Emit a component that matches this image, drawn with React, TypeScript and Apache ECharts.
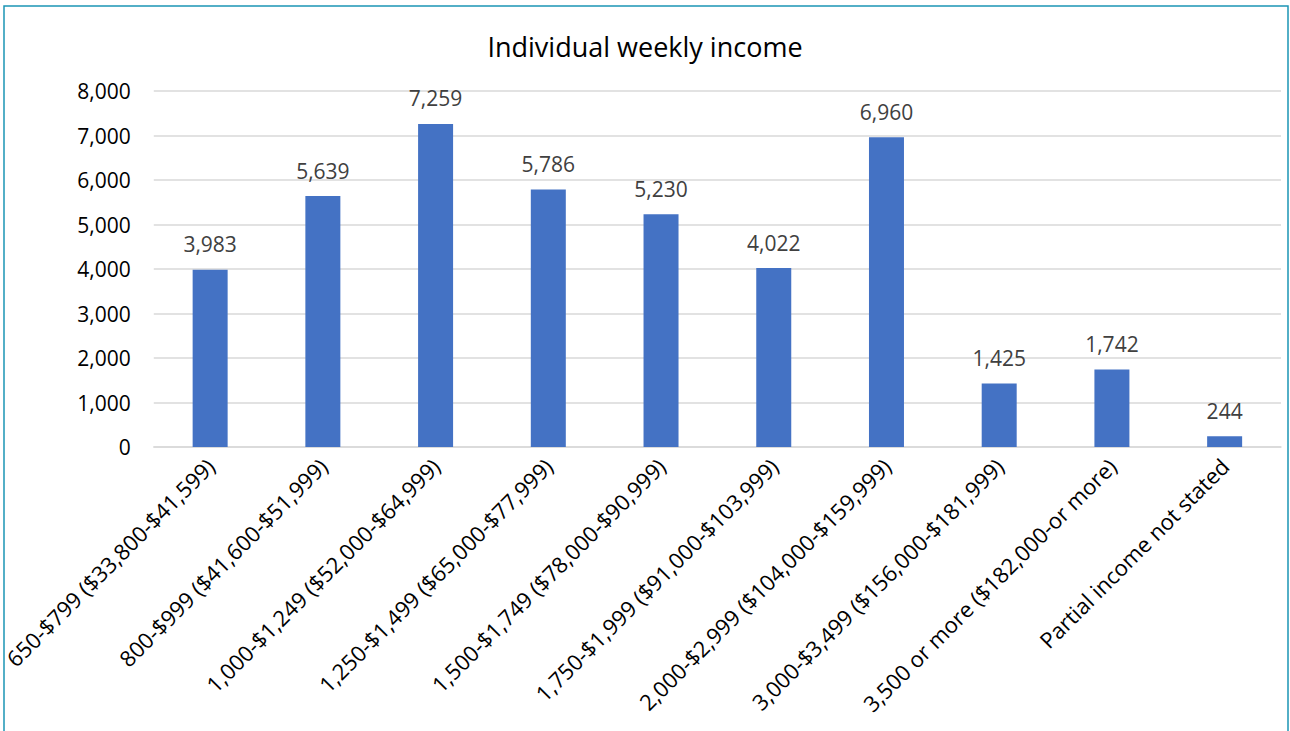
import React, { useEffect, useRef } from "react";
import * as echarts from "echarts";

const categories: string[] = [
  "650-$799 ($33,800-$41,599)",
  "800-$999 ($41,600-$51,999)",
  "1,000-$1,249 ($52,000-$64,999)",
  "1,250-$1,499 ($65,000-$77,999)",
  "1,500-$1,749 ($78,000-$90,999)",
  "1,750-$1,999 ($91,000-$103,999)",
  "2,000-$2,999 ($104,000-$159,999)",
  "3,000-$3,499 ($156,000-$181,999)",
  "3,500 or more ($182,000-or more)",
  "Partial income not stated",
];

const values: number[] = [3983, 5639, 7259, 5786, 5230, 4022, 6960, 1425, 1742, 244];

const yTicks: number[] = [0, 1000, 2000, 3000, 4000, 5000, 6000, 7000, 8000];

const titleText = "Individual weekly income";

const FONT = "'Open Sans', 'DejaVu Sans', sans-serif";

const fmt = (v: number) => v.toLocaleString("en-US");

export default function App() {
  const ref = useRef<HTMLDivElement>(null);

  useEffect(() => {
    if (!ref.current) return;
    const chart = echarts.init(ref.current, undefined, { renderer: "svg" });
    chart.setOption({
      animation: false,
      backgroundColor: "#ffffff",
      textStyle: { fontFamily: FONT },
      title: {
        text: titleText,
        left: "center",
        top: 28,
        textStyle: { fontFamily: FONT, fontSize: 27, fontWeight: "normal", color: "#000000" },
      },
      graphic: [
        {
          type: "rect",
          shape: { x: 4, y: 6, width: 1284, height: 760 },
          style: { fill: "none", stroke: "#1b95b5", lineWidth: 1.5 },
          silent: true,
          z: 100,
        },
      ],
      grid: { left: 153, right: 9, top: 91, bottom: 284, containLabel: false },
      xAxis: {
        type: "category",
        data: categories,
        axisLine: { show: true, lineStyle: { color: "#d9d9d9", width: 1.5 } },
        axisTick: { show: false },
        axisLabel: {
          rotate: 45,
          interval: 0,
          margin: 15,
          fontFamily: FONT,
          fontSize: 22,
          color: "#000000",
        },
      },
      yAxis: {
        type: "value",
        min: yTicks[0],
        max: yTicks[yTicks.length - 1],
        interval: 1000,
        axisLine: { show: false },
        axisTick: { show: false },
        splitLine: { lineStyle: { color: "#d9d9d9", width: 1.5 } },
        axisLabel: {
          margin: 23,
          fontFamily: FONT,
          fontSize: 21,
          color: "#000000",
          formatter: (v: number) => fmt(v),
        },
      },
      series: [
        {
          type: "bar",
          data: values,
          barWidth: 35,
          itemStyle: { color: "#4472c4" },
          label: {
            show: true,
            position: "top",
            distance: 15,
            fontFamily: FONT,
            fontSize: 21,
            color: "#404040",
            formatter: (p: any) => fmt(p.value),
          },
        },
      ],
    });
    return () => chart.dispose();
  }, []);

  return (
    <div
      ref={ref}
      style={{ position: "absolute", left: 0, top: 0, width: 1290, height: 731 }}
    />
  );
}
